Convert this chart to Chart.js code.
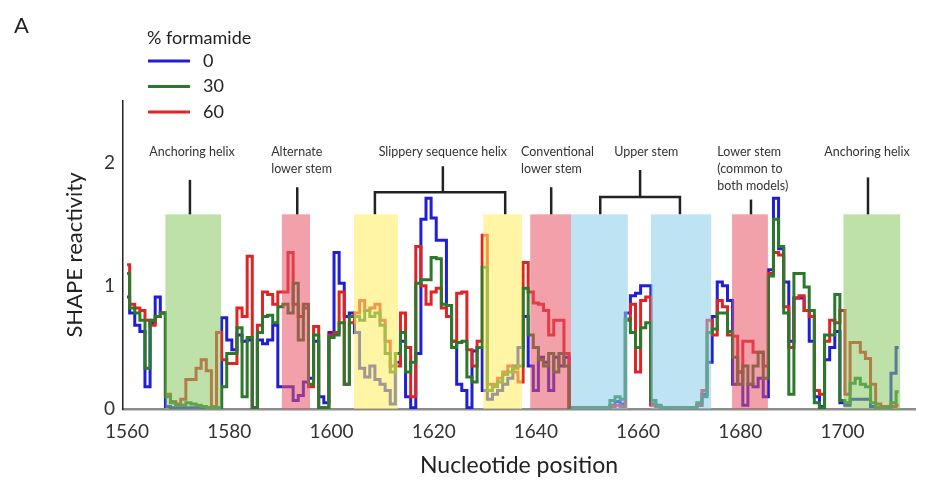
<!DOCTYPE html>
<html lang="en">
<head>
<meta charset="UTF-8">
<title>SHAPE reactivity</title>
<script src="https://cdn.jsdelivr.net/npm/chart.js"></script>
<style>
    html, body { margin: 0; padding: 0; background: #fff; }
    #caixa { position: relative; width: 925px; height: 491px; }
</style>
</head>
<body>
<div id="caixa"><canvas id="shape"></canvas></div>
<script>
    // first nucleotide of the window, one value per nucleotide after it
    const primeiroNt = 1560;

    const reat0 = [
        0.91, 0.78, 0.68, 0.63, 0.18, 0.70, 0.91, 0.78, 0.02, 0.01,
        0.01, 0.01, 0.01, 0.01, 0.01, 0.01, 0.01, 0.01, 0.01, 0.74,
        0.56, 0.48, 0.60, 0.55, 0.56, 0.01, 0.56, 0.53, 0.56, 0.68,
        0.18, 0.18, 0.18, 0.07, 0.11, 0.22, 0.25, 0.55, 0.10, 0.05,
        0.62, 1.27, 1.02, 0.75, 0.78, 0.62, 0.33, 0.26, 0.35, 0.24,
        0.20, 0.15, 0.04, 0.38, 0.55, 0.10, 0.01, 0.45, 1.54, 1.71,
        1.55, 1.37, 1.37, 0.84, 0.55, 0.20, 0.15, 0.01, 0.47, 0.50,
        0.15, 0.08, 0.12, 0.15, 0.20, 0.25, 0.35, 0.50, 0.75, 0.35,
        0.15, 0.42, 0.38, 0.15, 0.42, 0.35, 0.42, 0.01, 0.01, 0.01,
        0.01, 0.01, 0.01, 0.01, 0.01, 0.03, 0.06, 0.04, 0.78, 0.92,
        0.94, 1.00, 1.00, 0.04, 0.02, 0.01, 0.01, 0.01, 0.01, 0.01,
        0.01, 0.01, 0.03, 0.12, 0.38, 0.75, 1.03, 1.00, 0.88, 0.20,
        0.30, 0.03, 0.20, 0.18, 0.25, 0.10, 1.13, 1.71, 1.30, 1.03,
        0.55, 0.90, 0.90, 0.80, 0.55, 0.10, 0.02, 0.40, 0.50, 0.63,
        0.05, 0.03, 0.08, 0.08, 0.08, 0.08, 0.02, 0.01, 0.01, 0.01,
        0.29, 0.50
    ];
    const reat30 = [
        1.10, 0.82, 0.78, 0.72, 0.33, 0.72, 0.75, 0.78, 0.10, 0.05,
        0.03, 0.03, 0.05, 0.04, 0.03, 0.02, 0.01, 0.01, 0.01, 0.18,
        0.45, 0.45, 0.66, 0.10, 0.58, 0.01, 0.62, 0.75, 0.76, 0.70,
        0.83, 0.85, 0.78, 1.02, 0.56, 0.85, 0.20, 0.60, 0.01, 0.01,
        0.58, 0.60, 0.70, 0.20, 0.75, 0.75, 0.72, 0.80, 0.75, 0.78,
        0.68, 0.45, 0.30, 0.45, 0.62, 0.30, 0.38, 1.02, 1.05, 1.05,
        1.23, 1.22, 0.85, 0.84, 0.50, 0.54, 0.55, 0.26, 0.22, 0.50,
        1.15, 0.15, 0.18, 0.22, 0.28, 0.30, 0.33, 0.35, 0.98, 0.60,
        0.50, 0.40, 0.35, 0.45, 0.30, 0.45, 0.35, 0.01, 0.01, 0.01,
        0.01, 0.01, 0.01, 0.01, 0.01, 0.07, 0.10, 0.08, 0.73, 0.62,
        0.50, 0.66, 0.70, 0.07, 0.03, 0.01, 0.01, 0.01, 0.01, 0.01,
        0.01, 0.01, 0.05, 0.10, 0.62, 0.65, 0.78, 0.78, 0.63, 0.42,
        0.20, 0.35, 0.20, 0.35, 0.46, 0.25, 1.08, 1.54, 1.32, 0.78,
        0.12, 1.10, 1.10, 0.99, 0.80, 0.05, 0.01, 0.60, 0.60, 0.93,
        0.07, 0.05, 0.21, 0.25, 0.20, 0.18, 0.05, 0.01, 0.01, 0.01,
        0.05, 0.14
    ];
    const reat60 = [
        1.17, 0.85, 0.82, 0.80, 0.72, 0.68, 0.75, 0.78, 0.12, 0.06,
        0.04, 0.08, 0.24, 0.24, 0.33, 0.40, 0.31, 0.02, 0.62, 0.40,
        0.37, 0.37, 0.82, 0.75, 1.24, 0.01, 0.68, 0.95, 0.93, 0.85,
        0.95, 0.95, 1.27, 0.85, 0.75, 0.82, 0.18, 0.67, 0.01, 0.01,
        0.60, 0.62, 0.95, 0.20, 0.70, 0.78, 0.88, 0.80, 0.82, 0.85,
        0.72, 0.55, 0.35, 0.35, 0.78, 0.50, 0.10, 1.32, 1.00, 0.85,
        0.95, 0.98, 0.82, 0.75, 0.55, 0.94, 0.95, 0.48, 0.35, 0.55,
        1.41, 0.20, 0.20, 0.25, 0.30, 0.35, 0.30, 0.22, 1.19, 0.95,
        0.86, 0.85, 0.80, 0.60, 0.72, 0.72, 0.45, 0.01, 0.01, 0.01,
        0.01, 0.01, 0.01, 0.01, 0.01, 0.02, 0.03, 0.02, 0.72, 0.85,
        0.30, 0.88, 0.91, 0.03, 0.02, 0.01, 0.01, 0.01, 0.01, 0.01,
        0.01, 0.01, 0.03, 0.15, 0.72, 0.60, 0.88, 0.83, 0.60, 0.59,
        0.30, 0.55, 0.55, 0.46, 0.46, 0.35, 1.10, 1.27, 1.25, 0.83,
        0.50, 0.90, 0.92, 0.80, 0.75, 0.15, 0.12, 0.55, 0.72, 0.70,
        0.80, 0.12, 0.54, 0.54, 0.46, 0.41, 0.20, 0.04, 0.02, 0.02,
        0.02, 0.03
    ];

    const ticksX = [1560, 1580, 1600, 1620, 1640, 1660, 1680, 1700];
    const ticksY = [0, 1, 2];

    // shaded helix regions (nucleotide limits)
    const regiaoInicio = [1567.5, 1590.3, 1604.4, 1629.7, 1638.9, 1646.9, 1662.5, 1678.4, 1700.2];
    const regiaoFim = [1578.4, 1595.8, 1613.0, 1637.3, 1646.9, 1658.0, 1674.3, 1685.4, 1711.3];
    const regiaoCor = ['verde', 'rosa', 'amarelo', 'amarelo', 'rosa', 'azul', 'azul', 'rosa', 'verde'];
    const topoRegiao = 1.58;

    // labels over the regions
    const rotulos = ['Anchoring helix', 'Alternate\nlower stem', 'Slippery sequence helix',
        'Conventional\nlower stem', 'Upper stem', 'Lower stem\n(common to\nboth models)', 'Anchoring helix'];
    const rotuloX = [1572.7, 1588.2, 1621.8, 1637.1, 1661.6, 1675.5, 1704.8];
    const rotuloAlinha = ['center', 'left', 'center', 'left', 'center', 'left', 'center'];
    const hasteX = [1572.3, 1593.3, 1621.8, 1643.0, 1660.4, 1682.1, 1705.0];
    const hasteTopo = [1.86, 1.80, 1.97, 1.80, 1.94, 1.70, 1.88];
    const chaveEsq = [null, null, 1608.5, null, 1652.6, null, null];
    const chaveDir = [null, null, 1634.0, null, 1668.2, null, null];
    const chaveY = [null, null, 1.76, null, 1.72, null, null];

    const legendaTitulo = '% formamide';
    const legendaNomes = ['0', '30', '60'];

    const cores = {
        azulLinha: '#1f1fd6',
        verdeLinha: '#2c782c',
        vermelhoLinha: '#e02424',
        verde: 'rgba(137, 200, 100, 0.55)',
        rosa: 'rgba(231, 82, 100, 0.55)',
        amarelo: 'rgba(255, 238, 100, 0.58)',
        azul: 'rgba(137, 206, 233, 0.55)'
    };

    function pontos(valores) {
        return valores.map((v, i) => ({ x: primeiroNt + i, y: v }));
    }

    const faixas = {
        id: 'faixas',
        afterDatasetsDraw(chart) {
            const { ctx, scales: { x, y } } = chart;
            ctx.save();
            const yTopo = y.getPixelForValue(topoRegiao);
            const yBase = y.getPixelForValue(0);
            for (let i = 0; i < regiaoInicio.length; i++) {
                const x0 = x.getPixelForValue(regiaoInicio[i]);
                const x1 = x.getPixelForValue(regiaoFim[i]);
                ctx.fillStyle = cores[regiaoCor[i]];
                ctx.fillRect(x0, yTopo, x1 - x0, yBase - yTopo);
            }
            ctx.restore();
        }
    };

    const anotacoes = {
        id: 'anotacoes',
        afterDraw(chart) {
            const { ctx, scales: { x, y } } = chart;
            ctx.save();

            // stems and brackets
            ctx.strokeStyle = '#222';
            ctx.lineWidth = 2.5;
            const yBase = y.getPixelForValue(topoRegiao);
            for (let i = 0; i < hasteX.length; i++) {
                const hx = x.getPixelForValue(hasteX[i]);
                ctx.beginPath();
                if (chaveY[i] !== null) {
                    const cy = y.getPixelForValue(chaveY[i]);
                    const xe = x.getPixelForValue(chaveEsq[i]);
                    const xd = x.getPixelForValue(chaveDir[i]);
                    ctx.moveTo(hx, y.getPixelForValue(hasteTopo[i]));
                    ctx.lineTo(hx, cy);
                    ctx.moveTo(xe, yBase);
                    ctx.lineTo(xe, cy);
                    ctx.lineTo(xd, cy);
                    ctx.lineTo(xd, yBase);
                } else {
                    ctx.moveTo(hx, y.getPixelForValue(hasteTopo[i]));
                    ctx.lineTo(hx, yBase);
                }
                ctx.stroke();
            }

            // region labels
            ctx.fillStyle = '#333';
            ctx.font = '12.5px Lato';
            ctx.textBaseline = 'middle';
            const yRotulo = y.getPixelForValue(2.09);
            for (let i = 0; i < rotulos.length; i++) {
                ctx.textAlign = rotuloAlinha[i];
                const linhas = rotulos[i].split('\n');
                linhas.forEach((l, k) => ctx.fillText(l, x.getPixelForValue(rotuloX[i]), yRotulo + k * 17));
            }

            // legend
            ctx.textAlign = 'left';
            ctx.fillStyle = '#222';
            ctx.font = '18px Lato';
            ctx.fillText(legendaTitulo, 147, 38);
            const coresLeg = [cores.azulLinha, cores.verdeLinha, cores.vermelhoLinha];
            for (let i = 0; i < legendaNomes.length; i++) {
                const ly = 61 + i * 25.5;
                ctx.strokeStyle = coresLeg[i];
                ctx.lineWidth = 3;
                ctx.beginPath();
                ctx.moveTo(148, ly);
                ctx.lineTo(190, ly);
                ctx.stroke();
                ctx.fillText(legendaNomes[i], 203, ly);
            }

            // panel letter
            ctx.font = '22px Lato';
            ctx.fillText('A', 14, 26);
            ctx.restore();
        }
    };

    Chart.defaults.font.family = 'Lato';
    Chart.defaults.color = '#333';

    const conjunto = (rotulo, valores, cor, ordem) => ({
        label: rotulo,
        data: pontos(valores),
        borderColor: cor,
        backgroundColor: cor,
        borderWidth: 3,
        pointRadius: 0,
        stepped: 'middle',
        fill: false,
        order: ordem
    });

    new Chart(document.getElementById('shape'), {
        type: 'line',
        data: {
            datasets: [
                conjunto('0', reat0, cores.azulLinha, 2),
                conjunto('30', reat30, cores.verdeLinha, 0),
                conjunto('60', reat60, cores.vermelhoLinha, 1)
            ]
        },
        options: {
            responsive: true,
            maintainAspectRatio: false,
            animation: false,
            devicePixelRatio: 1,
            layout: { padding: { top: 101, right: 10, left: 0, bottom: 0 } },
            plugins: {
                legend: { display: false },
                tooltip: { enabled: false }
            },
            scales: {
                x: {
                    type: 'linear',
                    min: 1559.2,
                    max: 1714.2,
                    afterBuildTicks: (s) => { s.ticks = ticksX.map(v => ({ value: v })); },
                    afterFit: (s) => { s.height = 82; },
                    grid: { display: false, drawTicks: false },
                    border: { display: true, color: '#8c8c8c', width: 2.5 },
                    ticks: {
                        font: { size: 19 },
                        color: '#333',
                        padding: 11,
                        maxRotation: 0,
                        callback: (v) => String(v)
                    },
                    title: {
                        display: true,
                        text: 'Nucleotide position',
                        font: { size: 23 },
                        color: '#222',
                        padding: { top: 12, bottom: 12 }
                    }
                },
                y: {
                    min: 0,
                    max: 2.5,
                    afterBuildTicks: (s) => { s.ticks = ticksY.map(v => ({ value: v })); },
                    afterFit: (s) => { s.width = 123; },
                    grid: { display: false, drawTicks: false },
                    border: { display: true, color: '#222', width: 1.5 },
                    ticks: { font: { size: 19 }, color: '#333', padding: 8 },
                    title: {
                        display: true,
                        text: 'SHAPE reactivity',
                        font: { size: 22 },
                        color: '#222',
                        padding: { top: 62, bottom: 62 }
                    }
                }
            }
        },
        plugins: [faixas, anotacoes]
    });
</script>
</body>
</html>
